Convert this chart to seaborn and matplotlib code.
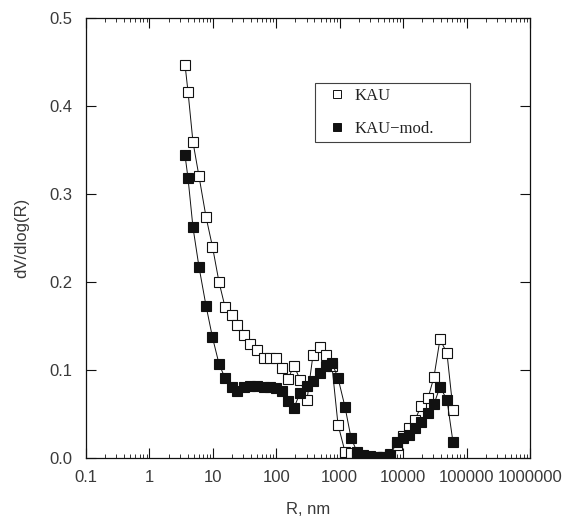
import numpy as np
import pandas as pd
import matplotlib
matplotlib.use("Agg")
import matplotlib.pyplot as plt
from matplotlib.lines import Line2D
from matplotlib.ticker import FixedLocator, LogLocator, NullFormatter
import seaborn as sns

# Pore radius grid (nm) shared by both samples
radius_nm = [3.64, 4.06, 4.86, 6.05, 7.80, 9.87, 12.5, 15.5, 20.0, 24.0,
             31.0, 38.5, 49.7, 64.0, 79.6, 99.0, 123, 153, 190, 237,
             305, 379, 489, 608, 756, 940, 1212, 1507, 1873, 2329,
             3002, 3872, 4810, 6210, 8000, 9950, 12360, 15380, 19100, 24650,
             30600, 38100, 49100, 61100]

# dV/dlog(R) for the parent and modified samples
kau = [0.447, 0.416, 0.359, 0.320, 0.274, 0.240, 0.200, 0.172, 0.162, 0.151,
       0.140, 0.130, 0.123, 0.114, 0.114, 0.114, 0.102, 0.090, 0.105, 0.089,
       0.066, 0.117, 0.126, 0.117, 0.104, 0.038, 0.007, 0.006, 0.003, 0.001,
       0.001, 0.001, 0.001, 0.005, 0.015, 0.025, 0.034, 0.043, 0.059, 0.068,
       0.092, 0.135, 0.119, 0.055]
kau_mod = [0.344, 0.318, 0.262, 0.217, 0.173, 0.137, 0.107, 0.091, 0.081, 0.076,
           0.081, 0.082, 0.082, 0.081, 0.081, 0.080, 0.076, 0.065, 0.057, 0.074,
           0.082, 0.088, 0.097, 0.104, 0.108, 0.091, 0.058, 0.023, 0.007, 0.003,
           0.002, 0.001, 0.001, 0.003, 0.018, 0.023, 0.026, 0.034, 0.041, 0.051,
           0.061, 0.081, 0.066, 0.018]

series_names = ["KAU", "KAU\u2212mod."]
x_ticks = [0.1, 1, 10, 100, 1000, 10000, 100000, 1000000]
x_tick_labels = ["0.1", "1", "10", "100", "1000", "10000", "100000", "1000000"]
y_ticks = [0.0, 0.1, 0.2, 0.3, 0.4, 0.5]
y_tick_labels = ["0.0", "0.1", "0.2", "0.3", "0.4", "0.5"]

df = pd.DataFrame({
    "R": radius_nm * 2,
    "dV": kau + kau_mod,
    "sample": [series_names[0]] * len(radius_nm) + [series_names[1]] * len(radius_nm),
})

sns.set_style("ticks")
plt.rcParams["font.family"] = ["Liberation Sans", "DejaVu Sans"]

fig = plt.figure(figsize=(5.7, 5.2), dpi=100)
ax = fig.add_axes([86 / 570, 62 / 520, 444 / 570, 440 / 520])

ink = "#111111"
text_col = "#3a3a3a"
styles = {series_names[0]: "white", series_names[1]: ink}
for name in series_names:
    sns.lineplot(data=df[df["sample"] == name], x="R", y="dV", ax=ax,
                 color=ink, linewidth=0.7, marker="s", markersize=7.2,
                 markerfacecolor=styles[name], markeredgecolor=ink,
                 markeredgewidth=0.8, legend=False)

ax.set_xscale("log")
ax.set_xlim(0.1, 1e6)
ax.set_ylim(0, 0.5)
ax.xaxis.set_major_locator(FixedLocator(x_ticks))
ax.set_xticklabels(x_tick_labels)
ax.xaxis.set_minor_locator(LogLocator(base=10, subs=np.arange(2, 10)))
ax.xaxis.set_minor_formatter(NullFormatter())
ax.set_yticks(y_ticks)
ax.set_yticklabels(y_tick_labels)

ax.tick_params(axis="both", which="major", direction="in", length=7, width=0.8,
               top=True, right=True, labelsize=12, labelcolor=text_col,
               color=ink)
ax.tick_params(axis="x", which="major", pad=9)
ax.tick_params(axis="y", which="major", pad=10)
ax.tick_params(axis="x", which="minor", direction="in", length=3, width=0.6,
               top=True, color=ink)
for s in ax.spines.values():
    s.set_linewidth(0.9)
    s.set_color(ink)

ax.set_xlabel("R, nm", fontsize=12, color=text_col, labelpad=12)
ax.set_ylabel("dV/dlog(R)", fontsize=12, color=text_col, labelpad=14)

handles = [
    Line2D([], [], ls="none", marker="s", markersize=5.5, markerfacecolor="white",
           markeredgecolor=ink, markeredgewidth=0.7),
    Line2D([], [], ls="none", marker="s", markersize=5.5, markerfacecolor=ink,
           markeredgecolor=ink, markeredgewidth=0.7),
]
x0 = (315 - 86) / 444
x1 = (470 - 86) / 444
ytop = (458 - 83) / 440
ybot = (458 - 143) / 440
leg = ax.legend(handles, series_names, loc="upper left",
                bbox_to_anchor=(x0, ybot, x1 - x0, ytop - ybot), mode="expand",
                borderaxespad=0, frameon=True, fancybox=False, handlelength=2.0,
                handletextpad=0.1, borderpad=0.3, labelspacing=1.0,
                prop={"family": "Liberation Serif", "size": 12})
leg.get_frame().set_edgecolor(ink)
leg.get_frame().set_linewidth(0.8)
for t in leg.get_texts():
    t.set_color("#222222")

fig.savefig("out.png", dpi=100, facecolor="white")
